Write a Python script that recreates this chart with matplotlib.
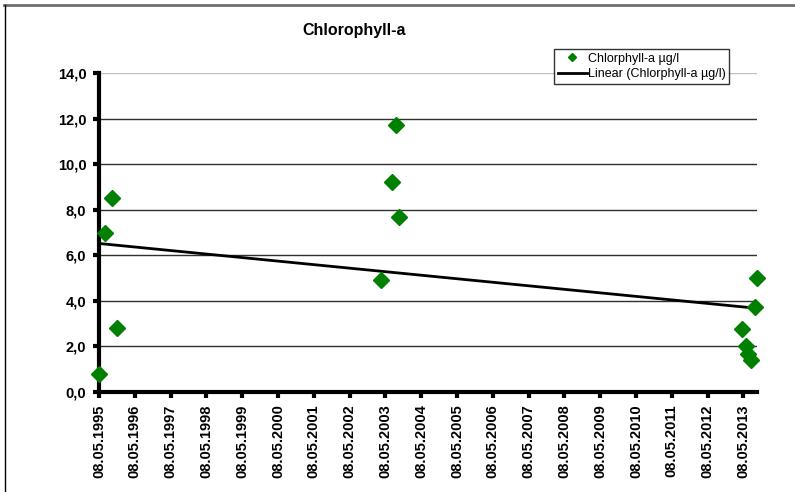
import matplotlib
matplotlib.use('Agg')
import matplotlib.pyplot as plt
import matplotlib.dates as mdates
from matplotlib.lines import Line2D
from datetime import datetime
import numpy as np

plt.rcParams['font.family'] = ['Liberation Sans', 'DejaVu Sans']

# sampling dates and chlorophyll-a values (µg/l)
dates = ['08.05.1995', '08.07.1995', '15.09.1995', '05.11.1995',
         '27.03.2003', '12.07.2003', '22.08.2003', '21.09.2003',
         '22.04.2013', '03.06.2013', '28.06.2013', '24.07.2013',
         '06.09.2013', '24.09.2013']
chl = [0.8, 7.0, 8.5, 2.8,
       4.9, 9.2, 11.7, 7.7,
       2.75, 2.0, 1.65, 1.4,
       3.75, 5.0]
tick_years = list(range(1995, 2014))
y_ticks = [0, 2, 4, 6, 8, 10, 12, 14]

d = [datetime.strptime(s, '%d.%m.%Y') for s in dates]
dn = mdates.date2num(d)

fig = plt.figure(figsize=(7.95, 4.92), dpi=100)
ax = fig.add_axes([99/795, 1-392/492, (757-99)/795, (392-73)/492])

for yv in y_ticks[1:]:
    ax.axhline(yv, color='#303030' if yv < 14 else '#c0c0c0', lw=1, zorder=1)

# linear trend over the sample dates
k, b = np.polyfit(dn, chl, 1)
xs = np.array([dn.min(), dn.max()])
ax.plot(xs, k*xs + b, color='black', lw=2, zorder=2,
        label='Linear (Chlorphyll-a µg/l)')
ax.plot(dn, chl, linestyle='none', marker='D', ms=8.5, color='#008000',
        zorder=3, clip_on=False, label='Chlorphyll-a µg/l')

ax.set_xlim(dn.min(), dn.max())
ax.set_ylim(0, 14)
ax.set_yticks(y_ticks)
ax.set_yticklabels([('%.1f' % v).replace('.', ',') for v in y_ticks],
                   fontweight='bold', fontsize=10.5)
tick_dates = [mdates.date2num(datetime(y, 5, 8)) for y in tick_years]
ax.set_xticks(tick_dates)
ax.set_xticklabels(['08.05.%d' % y for y in tick_years], rotation=90,
                   fontweight='bold', fontsize=10.5)
ax.tick_params(axis='both', direction='out', length=4, width=3, pad=5)

for s in ['top', 'right']:
    ax.spines[s].set_visible(False)
for s in ['left', 'bottom']:
    ax.spines[s].set_linewidth(3)

h, l = ax.get_legend_handles_labels()
leg = ax.legend([Line2D([], [], ls='none', marker='D', ms=4, color='#008000'), h[0]],
                [l[1], l[0]], loc='upper left',
                bbox_to_anchor=(554/795, 1-49/492), bbox_transform=fig.transFigure,
                fontsize=9, frameon=True, fancybox=False, handlelength=2.3,
                handletextpad=0.1, borderpad=0.3, labelspacing=0.3,
                borderaxespad=0)
leg.get_frame().set_edgecolor('black')
leg.get_frame().set_linewidth(1)

fig.text(354/795, 1-30/492, 'Chlorophyll-a', ha='center', va='center',
         fontsize=11.5, fontweight='bold')

# outer chart border
fig.add_artist(Line2D([4/795, 1], [1-4.5/492, 1-4.5/492], color='#707070', lw=2))
fig.add_artist(Line2D([4.5/795, 4.5/795], [0, 1-4.5/492], color='black', lw=1))

fig.savefig('out.png', dpi=100)
